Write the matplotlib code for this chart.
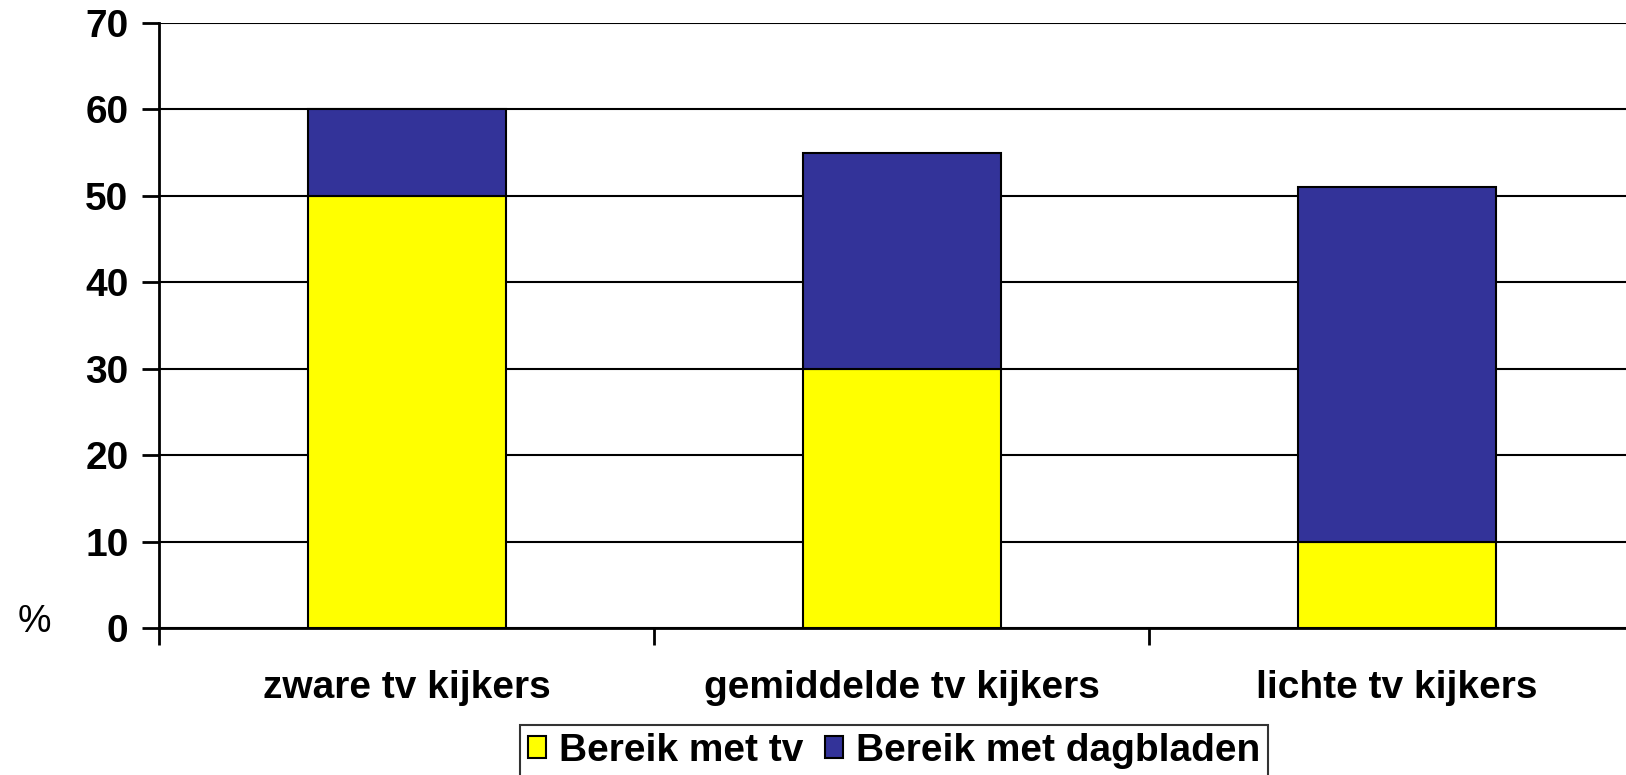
import numpy as np
import matplotlib
matplotlib.use('Agg')
import matplotlib.pyplot as plt

plt.rcParams['font.family'] = ['Liberation Sans', 'DejaVu Sans']

# Data
categories = ['zware tv kijkers', 'gemiddelde tv kijkers', 'lichte tv kijkers']
bereik_tv = [50, 30, 10]
bereik_dagbladen = [10, 25, 41]
series_names = ['Bereik met tv', 'Bereik met dagbladen']
yticks = [0, 10, 20, 30, 40, 50, 60, 70]

fig = plt.figure(figsize=(16.26, 7.75), dpi=100)
ax = fig.add_axes([0.0978, 0.1897, 0.9133, 0.7806])

x = np.arange(len(categories))
ax.bar(x, bereik_tv, width=0.4, color='#FFFF00', edgecolor='black',
       linewidth=1.5, label=series_names[0], zorder=3)
ax.bar(x, bereik_dagbladen, width=0.4, bottom=bereik_tv, color='#333399',
       edgecolor='black', linewidth=1.5, label=series_names[1], zorder=3)

ax.set_xlim(-0.5, 2.5)
ax.set_ylim(0, 70)
ax.set_yticks(yticks)
ax.set_yticklabels([str(v) for v in yticks], fontsize=28, fontweight='bold')
ax.yaxis.grid(True, color='black', linewidth=1.5, zorder=0)

# category labels between boundary ticks
ax.set_xticks([-0.5, 0.5, 1.5, 2.5])
ax.set_xticklabels([])
ax.set_xticks(x, minor=True)
ax.set_xticklabels(categories, minor=True, fontsize=28, fontweight='bold')
ax.tick_params(axis='x', which='minor', length=0, pad=30)
ax.tick_params(axis='x', which='major', length=12, width=2, direction='out')
ax.tick_params(axis='y', length=12, width=2, pad=10)

for side in ['top', 'right']:
    ax.spines[side].set_visible(False)
ax.spines['left'].set_linewidth(2)
ax.spines['bottom'].set_linewidth(2)

fig.text(0.011, 0.197, '%', fontsize=27, va='center')

# legend runs off the bottom edge like the original
leg = fig.legend(loc='upper center', bbox_to_anchor=(0.55, 0.064), ncol=2,
                 prop={'weight': 'bold', 'size': 28},
                 frameon=True, fancybox=False, handlelength=0.45,
                 handleheight=0.5, handletextpad=0.35, columnspacing=0.55,
                 borderpad=0.2, borderaxespad=0.0)
leg.get_frame().set_edgecolor('black')
leg.get_frame().set_linewidth(1.5)

fig.savefig('out.png', dpi=100)
